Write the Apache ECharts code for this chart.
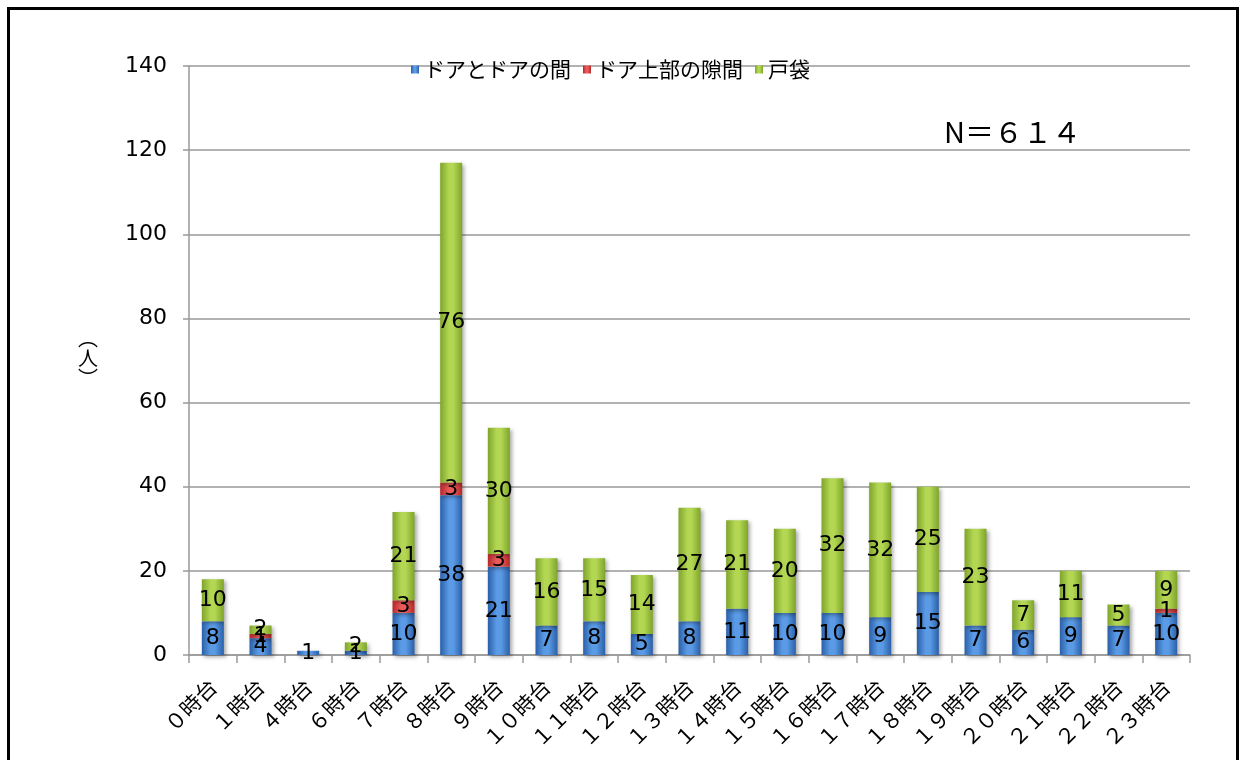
<!DOCTYPE html>
<html>
<head>
<meta charset="utf-8">
<script src="https://cdn.jsdelivr.net/npm/echarts@6/dist/echarts.min.js"></script>
<style>
  html, body { margin: 0; padding: 0; background: #fff; }
  #chart { width: 1243px; height: 760px; }
</style>
</head>
<body>
<div id="chart"></div>
<script>
// Hour-of-day categories (full-width digits)
const categories = ['０時台', '１時台', '４時台', '６時台', '７時台', '８時台', '９時台',
  '１０時台', '１１時台', '１２時台', '１３時台', '１４時台', '１５時台', '１６時台',
  '１７時台', '１８時台', '１９時台', '２０時台', '２１時台', '２２時台', '２３時台'];

// Counts per location
const betweenDoors = [8, 4, 1, 1, 10, 38, 21, 7, 8, 5, 8, 11, 10, 10, 9, 15, 7, 6, 9, 7, 10];
const gapAboveDoor = [0, 1, 0, 0, 3, 3, 3, 0, 0, 0, 0, 0, 0, 0, 0, 0, 0, 0, 0, 0, 1];
const doorPocket   = [10, 2, 0, 2, 21, 76, 30, 16, 15, 14, 27, 21, 20, 32, 32, 25, 23, 7, 11, 5, 9];

const seriesNames = ['ドアとドアの間', 'ドア上部の隙間', '戸袋'];
const totalLabel = 'N＝６１４';
const unitText = '人';
const yTicks = { min: 0, max: 140, interval: 20 };

const JP_FONT = 'Noto Sans CJK JP';
const NUM_FONT = 'DejaVu Sans';

function barFill(dark, light) {
  return new echarts.graphic.LinearGradient(0, 0, 1, 0, [
    { offset: 0, color: dark },
    { offset: 0.4, color: light },
    { offset: 0.6, color: light },
    { offset: 1, color: dark }
  ]);
}

function makeSeries(name, data, dark, light) {
  return {
    name: name,
    type: 'bar',
    stack: 'total',
    data: data,
    barWidth: 22,
    itemStyle: {
      color: barFill(dark, light),
      shadowColor: 'rgba(0,0,0,0.35)',
      shadowBlur: 4,
      shadowOffsetX: 2,
      shadowOffsetY: 2
    },
    label: {
      show: true,
      position: 'inside',
      color: '#000',
      fontFamily: NUM_FONT,
      fontSize: 22,
      formatter: p => (p.value ? String(p.value) : '')
    }
  };
}

// Vertical unit label: vertical-form brackets around an upright kanji
const unitX = 88, unitY = 358;
function unitPart(text, dy) {
  return {
    type: 'text', x: unitX, y: unitY + dy,
    style: { text: text, fontSize: 20, fill: '#000', fontFamily: JP_FONT, align: 'center', verticalAlign: 'middle' }
  };
}

const chart = echarts.init(document.getElementById('chart'));
chart.setOption({
  animation: false,
  textStyle: { fontFamily: JP_FONT },
  grid: { left: 189, right: 53, top: 66, bottom: 105 },
  legend: {
    top: 54,
    left: 406,
    itemWidth: 8,
    itemHeight: 8,
    itemGap: 12,
    icon: 'rect',
    textStyle: { fontFamily: JP_FONT, fontSize: 21, color: '#000' },
    data: seriesNames
  },
  xAxis: {
    type: 'category',
    data: categories,
    axisLine: { lineStyle: { color: '#999', width: 1.5 } },
    axisTick: { show: true, length: 8, lineStyle: { color: '#999', width: 1.5 } },
    axisLabel: {
      rotate: 45,
      color: '#000',
      fontFamily: JP_FONT,
      fontSize: 21,
      margin: 28,
      interval: 0
    }
  },
  yAxis: {
    type: 'value',
    min: yTicks.min,
    max: yTicks.max,
    interval: yTicks.interval,
    axisLine: { show: true, lineStyle: { color: '#999', width: 1.5 } },
    axisTick: { show: true, length: 6, lineStyle: { color: '#999', width: 1.5 } },
    axisLabel: { color: '#000', fontSize: 22, margin: 22, fontFamily: NUM_FONT },
    splitLine: { lineStyle: { color: '#999', width: 1.5 } }
  },
  graphic: [
    {
      type: 'rect',
      left: 6, top: 6,
      shape: { width: 1229, height: 770 },
      style: { fill: 'none', stroke: '#000', lineWidth: 3 },
      silent: true
    },
    unitPart('︵', -20),
    unitPart(unitText, 0),
    unitPart('︶', 20),
    {
      type: 'text',
      left: 944, top: 117,
      style: { text: totalLabel, fontSize: 29, fill: '#000', fontFamily: JP_FONT }
    }
  ],
  series: [
    makeSeries(seriesNames[0], betweenDoors, '#2a5fa8', '#5b9be6'),
    makeSeries(seriesNames[1], gapAboveDoor, '#b52828', '#ec5a5a'),
    makeSeries(seriesNames[2], doorPocket, '#7ea42a', '#b3d653')
  ]
});
</script>
</body>
</html>
